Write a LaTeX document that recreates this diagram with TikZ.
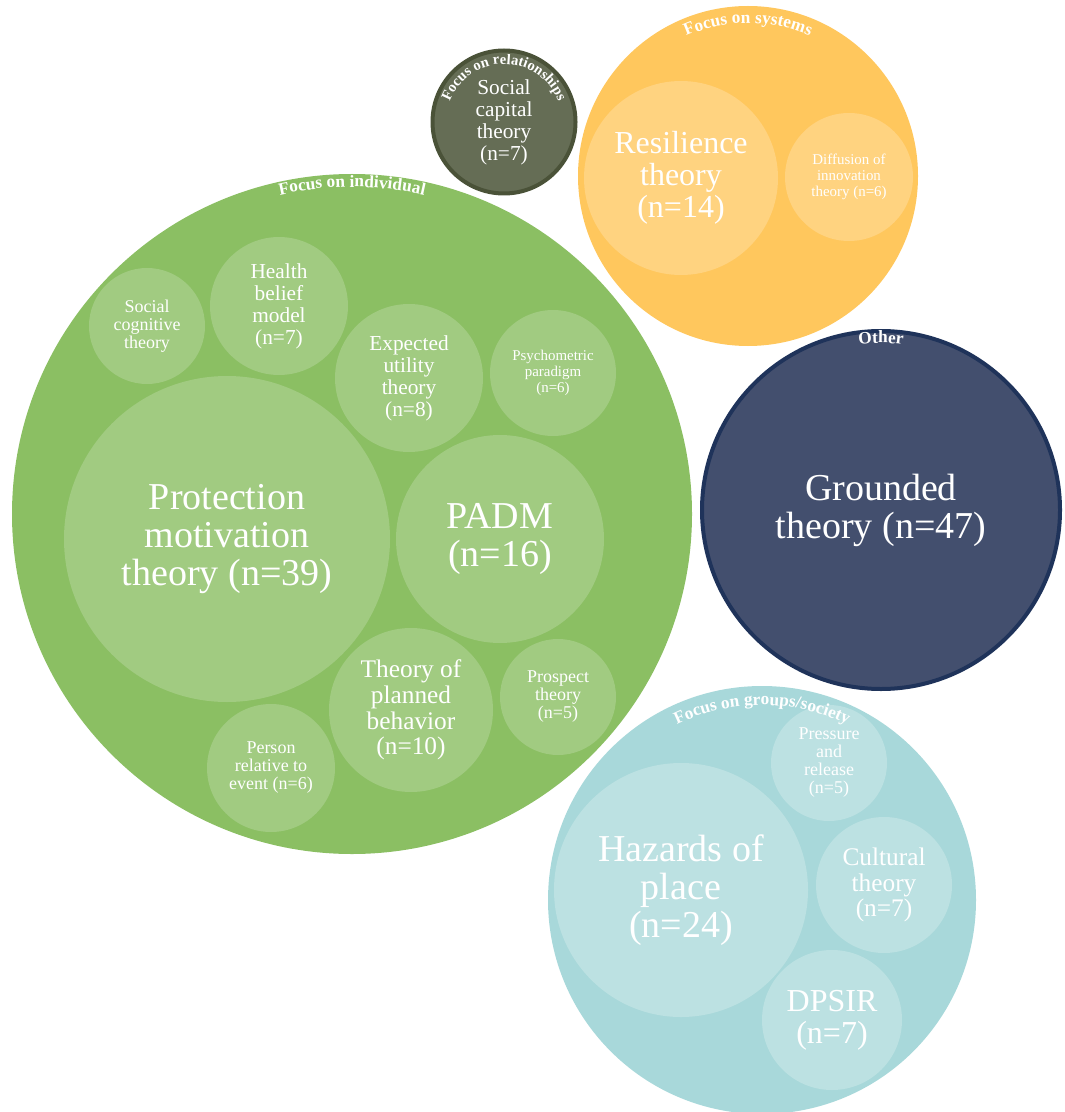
\documentclass[tikz,border=0pt]{standalone}
\usepackage{fontspec}
\setmainfont{Liberation Serif}
\usetikzlibrary{calc,decorations.text}
\definecolor{grpgreen}{RGB}{139,191,99}
\definecolor{subgreen}{RGB}{161,203,129}
\definecolor{grpolive}{RGB}{101,109,85}
\definecolor{rimolive}{RGB}{74,82,56}
\definecolor{grpyellow}{RGB}{255,199,93}
\definecolor{subyellow}{RGB}{255,211,128}
\definecolor{grpnavy}{RGB}{67,79,110}
\definecolor{rimnavy}{RGB}{31,51,90}
\definecolor{grpteal}{RGB}{168,216,218}
\definecolor{subteal}{RGB}{188,225,226}
\newcommand{\grplabelfont}{\fontsize{13}{13}\selectfont\bfseries}
\newcommand{\grplabelsmall}{\fontsize{11}{11}\selectfont\bfseries}
\tikzset{
    bubble/.style = {
        circle,
        inner sep=0pt,
        align=center,
        text=white,
        },
    rad/.style = {
        minimum size=#1*1.5pt,
        },
    huge txt/.style = {
        font=\fontsize{28.5}{28.5}\selectfont,
        },
    large txt/.style = {
        font=\fontsize{24}{24}\selectfont,
        },
    mid txt/.style = {
        font=\fontsize{19}{19.2}\selectfont,
        },
    small txt/.style = {
        font=\fontsize{16}{16.5}\selectfont,
        },
    tiny txt/.style = {
        font=\fontsize{13.5}{13.5}\selectfont,
        },
    mini txt/.style = {
        font=\fontsize{11.2}{12}\selectfont,
        },
    group label/.style = {
        decorate,
        decoration = {text along path, text align=center, text color=white,
            text={|\grplabelfont|#1}},
        },
    small group label/.style = {
        decorate,
        decoration = {text along path, text align=center, text color=white,
            text={|\grplabelsmall|#1}},
        },
}

\begin{document}
\begin{tikzpicture}[x=0.75pt, y=0.75pt]
            \useasboundingbox (0,0) rectangle (1064,-1112);

            % individual
            \node[bubble, rad=340, fill=grpgreen] (ind) at (352,-514) {};
            \node[bubble, rad=163, fill=subgreen, huge txt] (pmt) at (227,-539) {Protection\\motivation\\theory (n=39)};
            \node[bubble, rad=104, fill=subgreen, huge txt] (padm) at (500,-539) {PADM\\(n=16)};
            \node[bubble, rad=58, fill=subgreen, tiny txt] (scog) at (147,-326) {Social\\cognitive\\theory};
            \node[bubble, rad=69, fill=subgreen, small txt] (hbm) at (279,-306) {Health\\belief\\model\\(n=7)};
            \node[bubble, rad=74, fill=subgreen, small txt] (eut) at (409,-378) {Expected\\utility\\theory\\(n=8)};
            \node[bubble, rad=63, fill=subgreen, mini txt] (psy) at (553,-373) {Psychometric\\paradigm\\(n=6)};
            \node[bubble, rad=82, fill=subgreen, mid txt] (tpb) at (411,-710) {Theory of\\planned\\behavior\\(n=10)};
            \node[bubble, rad=58, fill=subgreen, tiny txt] (pros) at (558,-697) {Prospect\\theory\\(n=5)};
            \node[bubble, rad=64, fill=subgreen, tiny txt] (pre) at (271,-768) {Person\\relative to\\event (n=6)};
            \path[group label={Focus on individual}] ($(ind.center)+(120:327)$) arc[start angle=120, end angle=60, radius=327];

            % relationships
            \node[bubble, rad=71.5, fill=grpolive, draw=rimolive, line width=3pt, small txt] (rel) at (504,-122) {Social\\capital\\theory\\(n=7)};
            \path[small group label={Focus on relationships}] ($(rel.center)+(180:58)$) arc[start angle=180, end angle=0, radius=58];

            % systems
            \node[bubble, rad=170, fill=grpyellow] (sys) at (748,-176) {};
            \node[bubble, rad=97, fill=subyellow, large txt] (res) at (681,-178) {Resilience\\theory\\(n=14)};
            \node[bubble, rad=64, fill=subyellow, mini txt] (dif) at (849,-177) {Diffusion of\\innovation\\theory (n=6)};
            \path[group label={Focus on systems}] ($(sys.center)+(125:153)$) arc[start angle=125, end angle=55, radius=153];

            % other
            \node[bubble, rad=179, fill=grpnavy, draw=rimnavy, line width=3pt, huge txt] (oth) at (881,-510) {Grounded\\theory (n=47)};
            \path[group label={Other}] ($(oth.center)+(110:167)$) arc[start angle=110, end angle=70, radius=167];

            % groups/society
            \node[bubble, rad=214, fill=grpteal] (soc) at (762,-900) {};
            \node[bubble, rad=127, fill=subteal, huge txt] (haz) at (681,-890) {Hazards of\\place\\(n=24)};
            \node[bubble, rad=58, fill=subteal, tiny txt] (par) at (829,-763) {Pressure\\and\\release\\(n=5)};
            \node[bubble, rad=68, fill=subteal, mid txt] (cul) at (884,-885) {Cultural\\theory\\(n=7)};
            \node[bubble, rad=70, fill=subteal, large txt] (dps) at (832,-1020) {DPSIR\\(n=7)};
            \path[group label={Focus on groups/society}] ($(soc.center)+(125:195)$) arc[start angle=125, end angle=55, radius=195];
        \end{tikzpicture}
\end{document}
